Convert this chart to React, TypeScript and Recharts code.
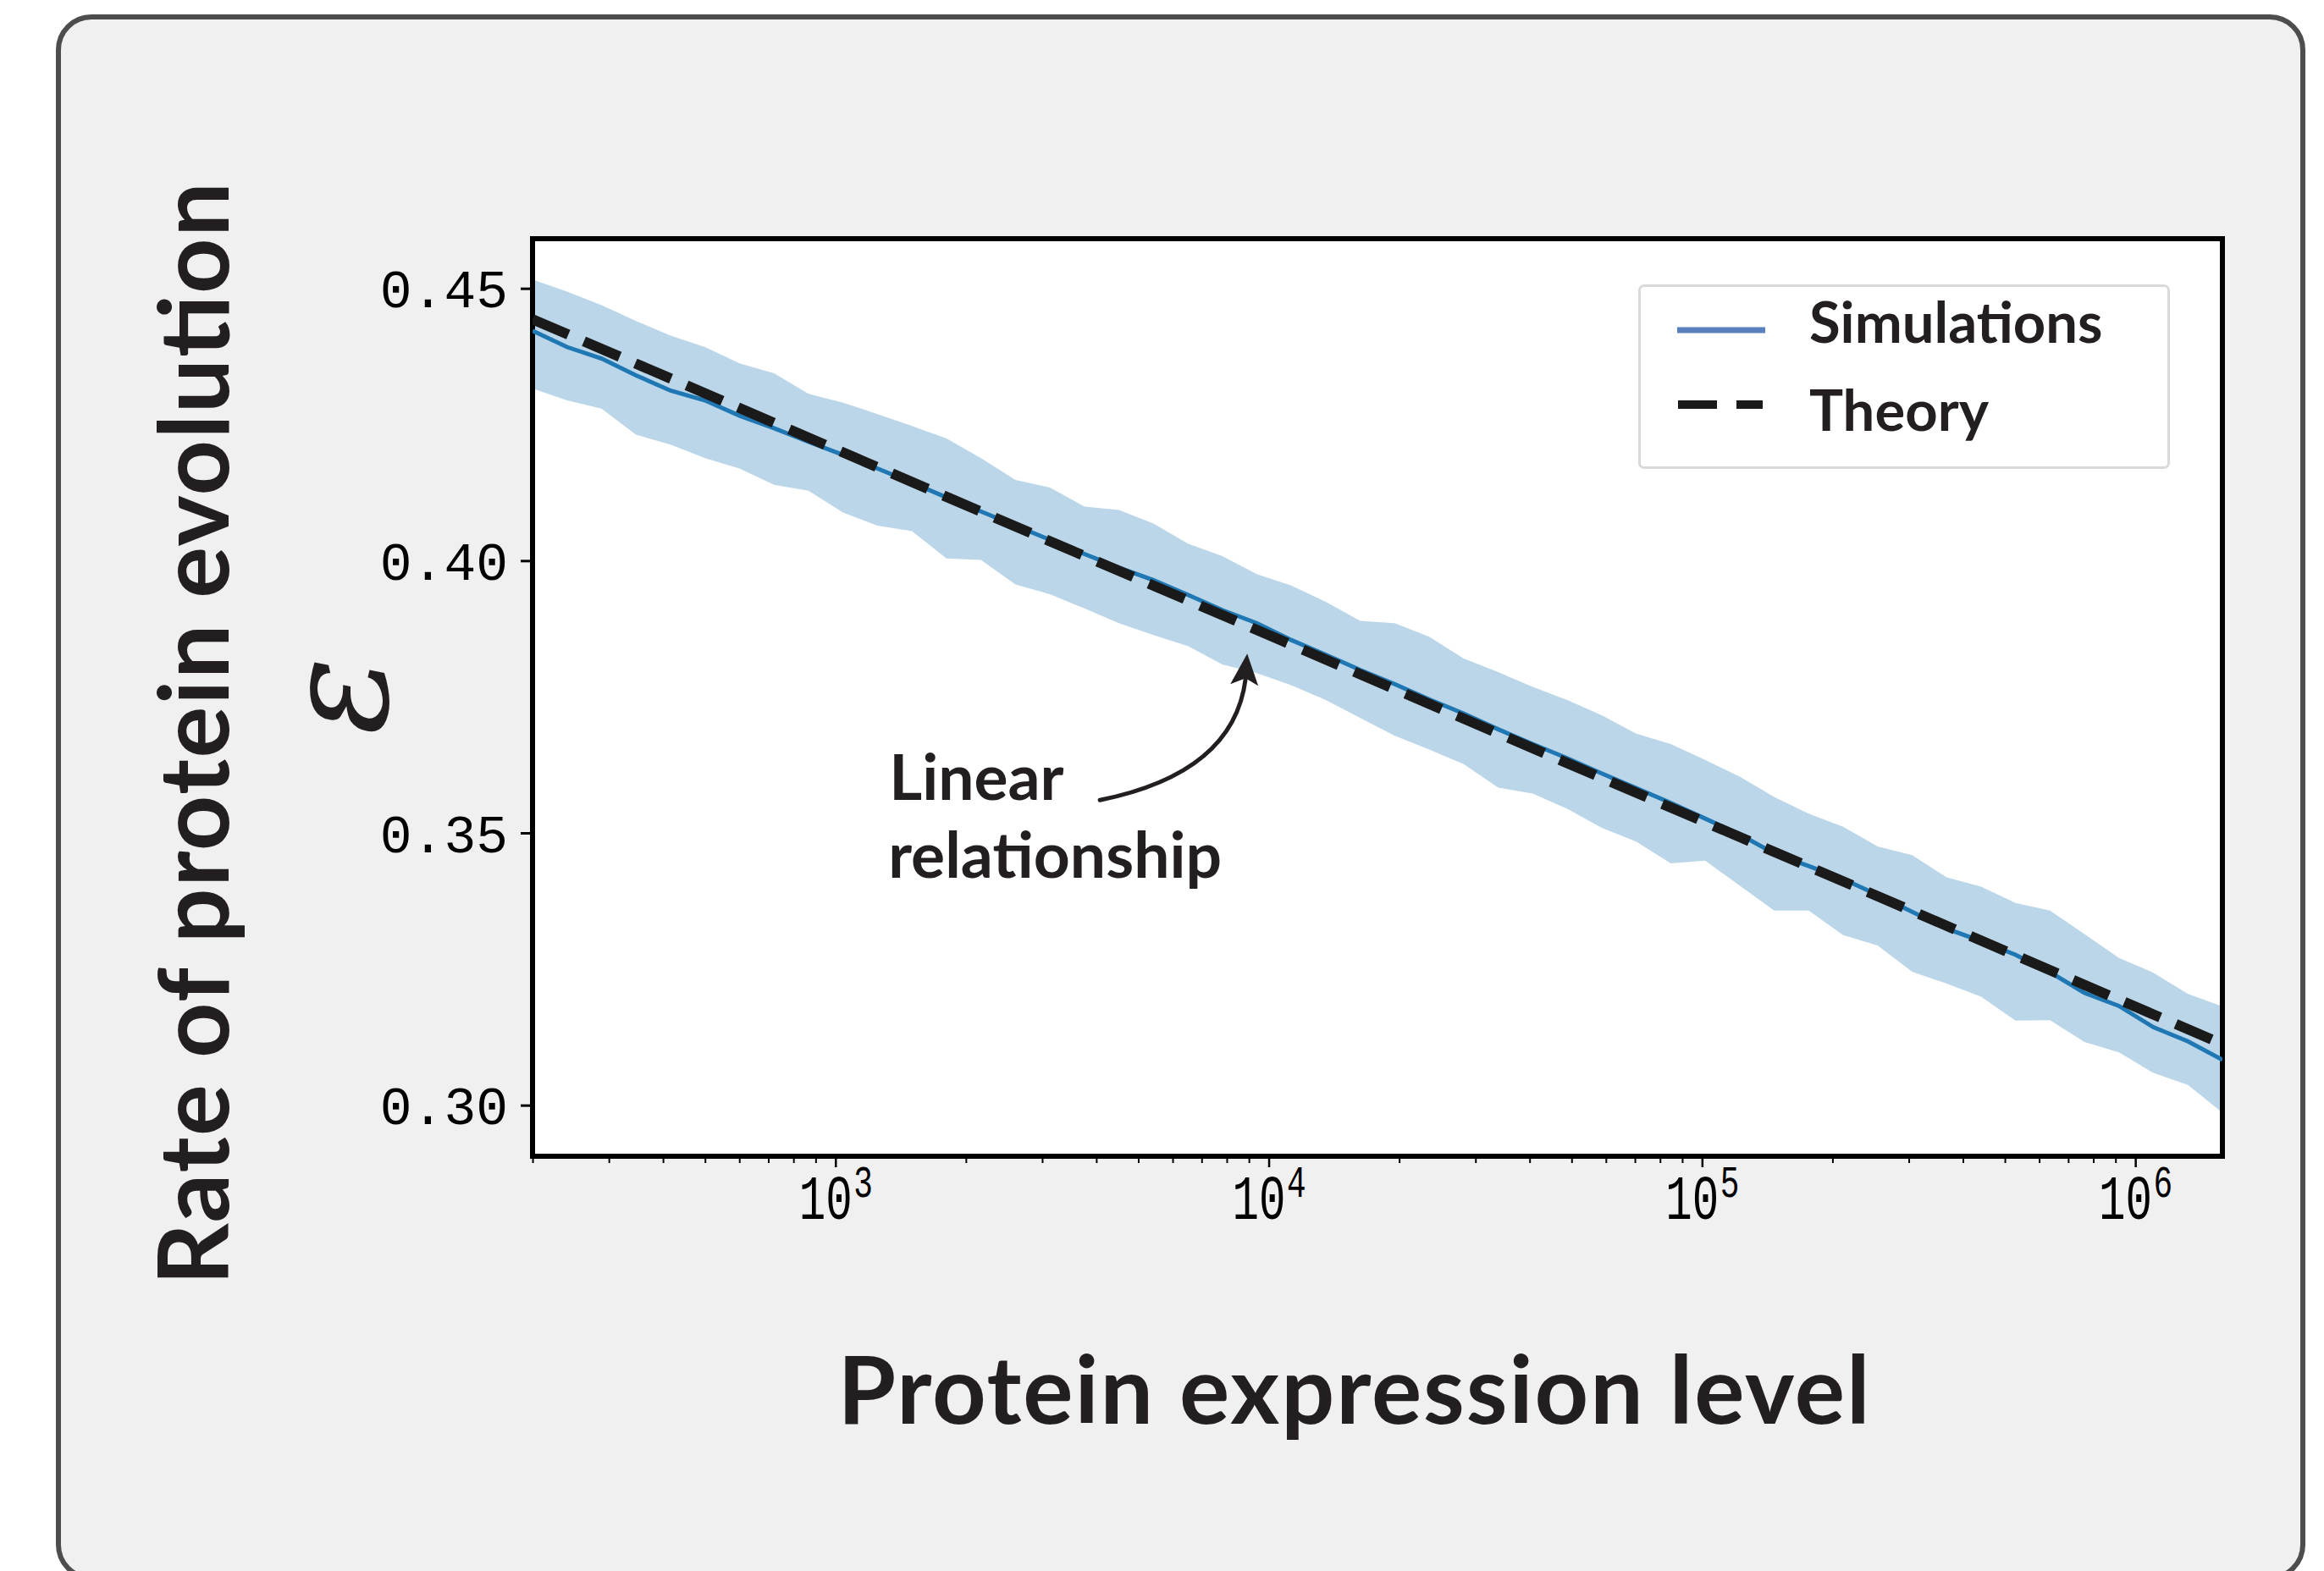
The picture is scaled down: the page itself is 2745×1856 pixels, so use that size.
import React from 'react';
import { ComposedChart, Area, Line, XAxis, YAxis, CartesianGrid, ReferenceDot, ReferenceArea, Legend } from 'recharts';

// protein expression level (log-spaced samples)
const expressionLevel = [
  199.5, 239.7, 287.9, 345.8, 415.4, 498.9, 599.3, 719.9, 864.7, 1038.7,
  1247.6, 1498.6, 1800.1, 2162.3, 2597.3, 3119.8, 3747.5, 4501.4, 5407.0, 6494.8,
  7797, 9363, 11246, 13509, 16227, 19491, 23412, 28122, 33779, 40575,
  48738, 58543, 70320, 84467, 101460, 121870, 146390, 175840, 211220, 253710,
  304750, 366060, 439710, 527810, 633870, 761390, 914570, 1098600, 1319600, 1584900,
];

// simulations: mean and spread
const simMean = [
  0.4423, 0.4393, 0.4372, 0.4341, 0.4313, 0.4295, 0.4267, 0.4244, 0.4219, 0.4195,
  0.4170, 0.4144, 0.4117, 0.4091, 0.4065, 0.4039, 0.4013, 0.3988, 0.3965, 0.3938,
  0.3910, 0.3886, 0.3855, 0.3828, 0.3800, 0.3774, 0.3746, 0.3720, 0.3691, 0.3664,
  0.3638, 0.3610, 0.3583, 0.3556, 0.3527, 0.3498, 0.3463, 0.3440, 0.3416, 0.3387,
  0.3356, 0.3325, 0.3302, 0.3277, 0.3245, 0.3207, 0.3183, 0.3144, 0.3118, 0.3084,
];
const simUpper = [
  0.4517, 0.4495, 0.4470, 0.4441, 0.4414, 0.4393, 0.4363, 0.4345, 0.4307, 0.4291,
  0.4270, 0.4248, 0.4225, 0.4189, 0.4149, 0.4135, 0.4100, 0.4094, 0.4069, 0.4032,
  0.4009, 0.3976, 0.3955, 0.3925, 0.3890, 0.3886, 0.3861, 0.3821, 0.3796, 0.3769,
  0.3745, 0.3717, 0.3683, 0.3664, 0.3635, 0.3604, 0.3567, 0.3536, 0.3512, 0.3476,
  0.3460, 0.3419, 0.3402, 0.3372, 0.3358, 0.3315, 0.3271, 0.3244, 0.3205, 0.3182,
];
const simLower = [
  0.4317, 0.4295, 0.4280, 0.4232, 0.4214, 0.4189, 0.4170, 0.4140, 0.4129, 0.4089,
  0.4065, 0.4055, 0.4005, 0.4002, 0.3957, 0.3939, 0.3913, 0.3886, 0.3864, 0.3844,
  0.3810, 0.3794, 0.3772, 0.3745, 0.3712, 0.3679, 0.3654, 0.3627, 0.3584, 0.3573,
  0.3545, 0.3510, 0.3485, 0.3445, 0.3450, 0.3404, 0.3358, 0.3358, 0.3313, 0.3294,
  0.3246, 0.3224, 0.3200, 0.3156, 0.3157, 0.3117, 0.3098, 0.3060, 0.3038, 0.2987,
];

// theory: straight line in log(expression)
const theoryLevel = [199.5, 1584900];
const theoryRate = [0.4444, 0.3113];

const majorTicks = [1000, 10000, 100000, 1000000];
const minorTicks = [
  200, 300, 400, 500, 600, 700, 800, 900,
  2000, 3000, 4000, 5000, 6000, 7000, 8000, 9000,
  20000, 30000, 40000, 50000, 60000, 70000, 80000, 90000,
  200000, 300000, 400000, 500000, 600000, 700000, 800000, 900000,
];
const rateTicks = [0.3, 0.35, 0.4, 0.45];

const xDomain = [199.5, 1584900];
const yDomain = [0.2907, 0.4592];

const data = expressionLevel.map((x, i) => ({ x, mean: simMean[i], band: [simLower[i], simUpper[i]] }));
const theoryData = theoryLevel.map((x, i) => ({ x, theory: theoryRate[i] }));

const INK = '#231f20';
const SANS = 'Lato, "Open Sans", sans-serif';
const MONO = '"Liberation Mono", "DejaVu Sans Mono", monospace';

function ExpressionTick(props: any) {
  const { x, y, payload } = props;
  const major = majorTicks.includes(payload.value);
  return (
    <g>
      <line x1={x} x2={x} y1={y} y2={y + (major ? 13 : 8)} stroke="#000" strokeWidth={major ? 2.5 : 2} />
      {major && (
        <text transform={`translate(${x},${y + 74}) scale(0.7,1)`} textAnchor="middle" fontFamily={MONO} fontSize={75} fill="#000">
          10
          <tspan dx={2} dy={-26} fontSize={54}>{Math.round(Math.log10(payload.value))}</tspan>
        </text>
      )}
    </g>
  );
}

function RateTick(props: any) {
  const { x, y, payload } = props;
  return (
    <g>
      <line x1={x - 14} x2={x} y1={y} y2={y} stroke="#000" strokeWidth={3} />
      <text x={x - 29} y={y} dy={22} textAnchor="end" fontFamily={MONO} fontSize={63} fill="#000">
        {payload.value.toFixed(2)}
      </text>
    </g>
  );
}

// arrow + text, anchored at the arrow tip
function Annotation(props: any) {
  const { cx, cy } = props;
  return (
    <g transform={`translate(${cx},${cy})`}>
      <path d="M -174 173 Q -16 141 -2 30" fill="none" stroke={INK} strokeWidth={5} strokeLinecap="round" />
      <polygon points="0,0 -20,36 -2,29 13,38" fill={INK} />
      <text x={-423} y={173} fontFamily={SANS} fontWeight={700} fontSize={75} fill={INK}>Linear</text>
      <text x={-424} y={265} fontFamily={SANS} fontWeight={700} fontSize={75} textLength={394} fill={INK}>relationship</text>
    </g>
  );
}

function LegendBox() {
  return (
    <div style={{ width: 628, height: 218, boxSizing: 'border-box', border: '3px solid #d9d9d9', borderRadius: 7, background: '#fff' }}>
      <svg width={622} height={212} style={{ display: 'block' }}>
        <line x1={43} x2={147} y1={51} y2={51} stroke="#5a7fbf" strokeWidth={7} />
        <text x={199} y={66} fontFamily={SANS} fontWeight={700} fontSize={67} fill={INK}>Simulations</text>
        <line x1={44} x2={144} y1={139} y2={139} stroke="#1a1a1a" strokeWidth={10} strokeDasharray="46 23" />
        <text x={199} y={170} fontFamily={SANS} fontWeight={700} fontSize={67} fill={INK}>Theory</text>
      </svg>
    </div>
  );
}

export default function App() {
  return (
    <div style={{ position: 'absolute', left: 0, top: 0, width: 2745, height: 1856, overflow: 'hidden', background: '#fff' }}>
      <div
        style={{
          position: 'absolute', left: 66, top: 17, width: 2657, height: 1850, boxSizing: 'border-box',
          border: '6px solid #4d4d4d', borderRadius: 42, background: '#f0f0f0',
        }}
      />
      <div style={{ position: 'absolute', left: 0, top: 0 }}>
        <ComposedChart width={2745} height={1856} data={data} margin={{ top: 282, right: 120, bottom: 290, left: 429 }}>
          <CartesianGrid horizontal={false} vertical={false} fill="#ffffff" />
          <XAxis
            dataKey="x" type="number" scale="log" domain={xDomain} allowDataOverflow
            ticks={[...minorTicks, ...majorTicks]} interval={0} tick={<ExpressionTick />}
            tickLine={false} tickSize={0} tickMargin={0} height={200} axisLine={false}
            label={() => (
              <text x={1599} y={1682} textAnchor="middle" fontFamily={SANS} fontWeight={700} fontSize={111} textLength={1219} fill={INK}>
                Protein expression level
              </text>
            )}
          />
          <YAxis
            type="number" domain={yDomain} allowDataOverflow ticks={rateTicks} interval={0}
            tick={<RateTick />} tickLine={false} tickSize={0} tickMargin={0} width={200} axisLine={false}
            label={() => (
              <g>
                <text transform="translate(270,867) rotate(-90)" textAnchor="middle" fontFamily={SANS} fontWeight={700} fontSize={114} textLength={1303} fill={INK}>
                  Rate of protein evolution
                </text>
                <text transform="translate(457,822) rotate(-90)" textAnchor="middle" fontFamily='"DejaVu Serif", serif' fontStyle="italic" fontSize={172} fill={INK}>
                  ε
                </text>
              </g>
            )}
          />
          <Area dataKey="band" type="linear" stroke="none" fill="#1f77b4" fillOpacity={0.3} isAnimationActive={false} />
          <Line dataKey="mean" type="linear" stroke="#1f77b4" strokeWidth={5} dot={false} isAnimationActive={false} />
          <Line
            data={theoryData} dataKey="theory" type="linear" stroke="#1a1a1a" strokeWidth={12}
            strokeDasharray="46 20" dot={false} isAnimationActive={false}
          />
          <ReferenceArea
            x1={xDomain[0]} x2={xDomain[1]} y1={yDomain[0]} y2={yDomain[1]}
            fill="none" fillOpacity={0} stroke="#000" strokeWidth={6} strokeOpacity={1}
          />
          <ReferenceDot x={8900} y={0.383} r={0} ifOverflow="visible" shape={(p: any) => <Annotation {...p} />} />
          <Legend
            layout="vertical" align="center" verticalAlign="middle"
            wrapperStyle={{ left: 1935, top: 336, width: 628, height: 218 }}
            content={() => <LegendBox />}
          />
        </ComposedChart>
      </div>
    </div>
  );
}
